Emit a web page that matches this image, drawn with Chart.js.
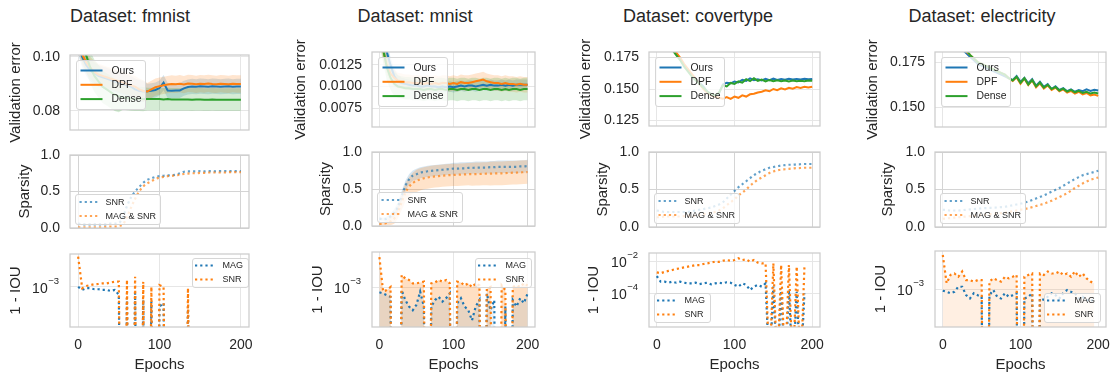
<!DOCTYPE html>
<html>
<head>
<meta charset="utf-8">
<script src="https://cdn.jsdelivr.net/npm/chart.js"></script>
<style>
  html, body { margin: 0; padding: 0; background: #fff; }
  #fig { position: relative; width: 1115px; height: 375px; overflow: hidden;
         font-family: 'Liberation Sans', Arial, sans-serif; color: #262626; }
  #fig canvas { position: absolute; }
  .ttl { position: absolute; top: 6px; font-size: 18px; line-height: 21px; white-space: nowrap; transform: translateX(-50%); }
</style>
</head>
<body>
<div id="fig"></div>
<script>
// ---- data ----
const datasetNames = ['fmnist', 'mnist', 'covertype', 'electricity'];
const methods = ['Ours', 'DPF', 'Dense'];
const sparsityLabels = ['SNR', 'MAG & SNR'];
const iouLabels = ['MAG', 'SNR'];
const Z = 1e-9; // "zero" overlap, plotted below the log axis

const epochs = [0,5,10,15,20,25,30,35,40,45,50,55,60,65,70,75,80,85,90,95,
  100,105,110,115,120,125,130,135,140,145,150,155,160,165,170,175,180,185,190,195,200];
const xTicks = [0, 100, 200];

// validation error
const fmOurs = [0.105,0.100,0.097,0.095,0.094,0.093,0.0925,0.092,0.0915,0.091,
  0.0905,0.090,0.0895,0.089,0.088,0.0875,0.0872,0.0873,0.0875,0.0878,
  0.0885,0.0905,0.0876,0.0875,0.0876,0.0876,0.0884,0.0889,0.0891,0.0890,
  0.0892,0.0891,0.0890,0.0892,0.0891,0.0890,0.0891,0.0892,0.0890,0.0891,0.0891];
const fmDpf = [0.106,0.101,0.098,0.096,0.0945,0.0935,0.093,0.0925,0.092,0.0915,
  0.091,0.0905,0.090,0.0895,0.089,0.088,0.0874,0.0872,0.0880,0.0888,
  0.0892,0.0895,0.0898,0.0900,0.0899,0.0901,0.0898,0.0902,0.0901,0.0899,
  0.0901,0.0900,0.0902,0.0900,0.0899,0.0901,0.0900,0.0899,0.0901,0.0900,0.0900];
const fmDense = [0.110,0.104,0.1005,0.096,0.093,0.091,0.089,0.088,0.087,0.086,
  0.0855,0.085,0.0848,0.0846,0.0845,0.0845,0.0844,0.0844,0.0844,0.0844,
  0.0844,0.0843,0.0844,0.0843,0.0843,0.0843,0.0843,0.0843,0.0842,0.0843,
  0.0843,0.0842,0.0842,0.0843,0.0842,0.0842,0.0842,0.0842,0.0842,0.0842,0.0842];
const fmOursStd = [0.004,0.004,0.004,0.004,0.004,0.004,0.004,0.004,0.004,0.004,
  0.004,0.004,0.004,0.004,0.004,0.004,0.004,0.0028,0.0028,0.0028,
  0.0028,0.0028,0.0028,0.0028,0.0028,0.0028,0.0028,0.0028,0.0028,0.0028,
  0.0028,0.0028,0.0028,0.0028,0.0028,0.0028,0.0028,0.0028,0.0028,0.0028,0.0028];
const fmDpfStd = [0.004,0.004,0.004,0.004,0.004,0.004,0.004,0.004,0.004,0.004,
  0.004,0.004,0.004,0.004,0.004,0.004,0.004,0.0032,0.0032,0.0032,
  0.0032,0.0032,0.0032,0.0032,0.0032,0.0032,0.0032,0.0032,0.0032,0.0032,
  0.0032,0.0032,0.0032,0.0032,0.0032,0.0032,0.0032,0.0032,0.0032,0.0032,0.0032];
const fmDenseStd = [0.006,0.006,0.006,0.006,0.006,0.006,0.006,0.006,0.006,0.006,
  0.006,0.0045,0.0045,0.0045,0.0045,0.0045,0.0045,0.0042,0.0042,0.0042,
  0.0042,0.0042,0.0042,0.0042,0.0042,0.0042,0.0042,0.0042,0.0042,0.0042,
  0.0042,0.0042,0.0042,0.0042,0.0042,0.0042,0.0042,0.0042,0.0042,0.0042,0.0042];

const mnOurs = [0.0180,0.0150,0.0140,0.0125,0.0112,0.0106,0.0104,0.0103,0.0102,0.0101,
  0.0101,0.0100,0.0100,0.0101,0.0100,0.0100,0.0099,0.0100,0.0099,0.0100,
  0.0099,0.0100,0.0101,0.0100,0.0101,0.0101,0.0100,0.0101,0.0102,0.0101,
  0.0102,0.0101,0.0101,0.0102,0.0101,0.0102,0.0101,0.0102,0.0102,0.0102,0.0102];
const mnDpf = [0.0170,0.0142,0.0125,0.0115,0.0110,0.0107,0.0106,0.0105,0.0105,0.0104,
  0.0104,0.0104,0.0103,0.0104,0.0103,0.0104,0.0103,0.0104,0.0104,0.0103,
  0.0104,0.0103,0.0105,0.0104,0.0104,0.0105,0.0106,0.0107,0.0108,0.0106,
  0.0105,0.0104,0.0104,0.0103,0.0104,0.0103,0.0103,0.0102,0.0103,0.0102,0.0102];
const mnDense = [0.0170,0.0143,0.0122,0.0110,0.0103,0.0100,0.0099,0.0098,0.0098,0.0097,
  0.0097,0.0097,0.0096,0.0097,0.0097,0.0096,0.0097,0.0097,0.0096,0.0097,
  0.0097,0.0096,0.0097,0.0097,0.0096,0.0097,0.0097,0.0096,0.0097,0.0097,
  0.0096,0.0097,0.0097,0.0096,0.0097,0.0096,0.0097,0.0097,0.0096,0.0097,0.0097];
const mnOursStd = [0.0015,0.0012,0.001,0.0009,0.0008,0.0007,0.0006,0.0006,0.0006,0.0006,
  0.0006,0.0006,0.0006,0.0006,0.0006,0.0006,0.0006,0.0006,0.0006,0.0006,
  0.0006,0.0006,0.0006,0.0006,0.0006,0.0006,0.0006,0.0006,0.0006,0.0006,
  0.0006,0.0006,0.0006,0.0006,0.0006,0.0006,0.0006,0.0006,0.0006,0.0006,0.0006];
const mnDpfStd = [0.0015,0.0012,0.0011,0.001,0.001,0.0009,0.0009,0.0009,0.0009,0.0009,
  0.0009,0.0009,0.0009,0.0009,0.0009,0.0009,0.0009,0.0009,0.0009,0.0009,
  0.0009,0.0009,0.0009,0.0009,0.0009,0.0009,0.0009,0.0009,0.0009,0.0009,
  0.0009,0.0009,0.0009,0.0009,0.0009,0.0009,0.0009,0.0009,0.0009,0.0009,0.0009];
const mnDenseStd = [0.0018,0.0016,0.0015,0.0014,0.0014,0.0013,0.0013,0.0013,0.0013,0.0013,
  0.0013,0.0013,0.0013,0.0013,0.0013,0.0013,0.0013,0.0013,0.0013,0.0013,
  0.0013,0.0013,0.0013,0.0013,0.0013,0.0013,0.0013,0.0013,0.0013,0.0013,
  0.0013,0.0013,0.0013,0.0013,0.0013,0.0013,0.0013,0.0013,0.0013,0.0013,0.0013];

const coOurs = [0.200,0.195,0.190,0.186,0.182,0.178,0.174,0.169,0.165,0.161,
  0.158,0.155,0.152,0.148,0.146,0.1445,0.1465,0.1535,0.1550,0.1545,
  0.1560,0.1552,0.1572,0.1565,0.1585,0.1570,0.1578,0.1568,0.1580,0.1570,
  0.1582,0.1572,0.1580,0.1574,0.1582,0.1576,0.1580,0.1575,0.1582,0.1578,0.1580];
const coDpf = [0.201,0.196,0.191,0.187,0.183,0.179,0.175,0.170,0.166,0.162,
  0.158,0.154,0.150,0.147,0.145,0.1438,0.1430,0.1422,0.1435,0.1422,
  0.1440,0.1430,0.1450,0.1440,0.1458,0.1462,0.1472,0.1478,0.1490,0.1482,
  0.1500,0.1490,0.1505,0.1497,0.1510,0.1502,0.1515,0.1508,0.1518,0.1512,0.1518];
const coDense = [0.199,0.194,0.189,0.185,0.181,0.177,0.173,0.168,0.164,0.160,
  0.157,0.154,0.151,0.148,0.146,0.1450,0.1470,0.1530,0.1520,0.1548,
  0.1540,0.1560,0.1550,0.1578,0.1562,0.1585,0.1565,0.1575,0.1560,0.1572,
  0.1562,0.1570,0.1562,0.1568,0.1560,0.1568,0.1562,0.1566,0.1562,0.1568,0.1565];

const elOurs = [0.195,0.192,0.189,0.186,0.184,0.182,0.180,0.178,0.176,0.174,
  0.173,0.172,0.171,0.170,0.169,0.168,0.167,0.1660,0.1650,0.1672,
  0.1640,0.1662,0.1632,0.1655,0.1618,0.1640,0.1612,0.1628,0.1600,0.1615,
  0.1595,0.1605,0.1588,0.1598,0.1585,0.1595,0.1588,0.1598,0.1590,0.1596,0.1592];
const elDpf = [0.196,0.193,0.190,0.187,0.185,0.183,0.181,0.179,0.177,0.175,
  0.174,0.173,0.172,0.171,0.170,0.169,0.168,0.1660,0.1645,0.1665,
  0.1630,0.1658,0.1622,0.1648,0.1610,0.1632,0.1603,0.1620,0.1595,0.1608,
  0.1588,0.1598,0.1580,0.1590,0.1575,0.1585,0.1570,0.1578,0.1565,0.1570,0.1562];
const elDense = [0.197,0.194,0.191,0.188,0.186,0.184,0.182,0.179,0.177,0.175,
  0.174,0.173,0.172,0.171,0.170,0.169,0.168,0.1660,0.1648,0.1668,
  0.1635,0.1660,0.1625,0.1650,0.1615,0.1636,0.1608,0.1624,0.1600,0.1612,
  0.1592,0.1602,0.1586,0.1595,0.1582,0.1590,0.1578,0.1585,0.1575,0.1580,0.1575];

const fmErrTicks = [0.08, 0.10];
const mnErrTicks = [0.0075, 0.0100, 0.0125];
const coErrTicks = [0.125, 0.150, 0.175];
const elErrTicks = [0.150, 0.175];

// sparsity
const sparsityTicks = [0, 0.5, 1.0];
const fmSnr = [0.06,0.05,0.05,0.05,0.05,0.05,0.05,0.05,0.06,0.06,
  0.07,0.15,0.30,0.42,0.50,0.56,0.62,0.66,0.68,0.70,
  0.71,0.715,0.72,0.725,0.73,0.75,0.77,0.775,0.775,0.775,
  0.78,0.775,0.78,0.78,0.775,0.78,0.78,0.78,0.78,0.78,0.78];
const fmMagSnr = [0.01,0.01,0.01,0.01,0.01,0.01,0.01,0.015,0.02,0.02,
  0.03,0.05,0.15,0.28,0.40,0.50,0.57,0.61,0.64,0.67,
  0.69,0.70,0.71,0.715,0.72,0.73,0.74,0.745,0.75,0.75,
  0.755,0.755,0.76,0.76,0.76,0.76,0.76,0.765,0.765,0.765,0.765];
const mnSnr = [0.10,0.09,0.10,0.13,0.18,0.26,0.40,0.54,0.63,0.68,
  0.70,0.72,0.73,0.74,0.745,0.75,0.755,0.76,0.765,0.77,
  0.775,0.775,0.78,0.78,0.785,0.785,0.79,0.79,0.79,0.79,
  0.795,0.795,0.80,0.80,0.80,0.80,0.80,0.80,0.805,0.805,0.81];
const mnMagSnr = [0.03,0.03,0.04,0.06,0.10,0.19,0.32,0.45,0.53,0.58,
  0.61,0.63,0.645,0.655,0.665,0.67,0.675,0.68,0.685,0.688,
  0.69,0.692,0.695,0.697,0.70,0.70,0.702,0.703,0.705,0.707,
  0.708,0.71,0.71,0.712,0.715,0.717,0.72,0.722,0.725,0.727,0.73];
const mnSnrStd = [0.02,0.02,0.03,0.04,0.05,0.06,0.07,0.07,0.07,0.07,
  0.075,0.075,0.075,0.075,0.075,0.075,0.075,0.075,0.075,0.075,
  0.08,0.08,0.08,0.08,0.08,0.08,0.08,0.08,0.08,0.08,
  0.085,0.085,0.085,0.085,0.085,0.085,0.085,0.085,0.085,0.085,0.085];
const mnMagSnrStd = [0.02,0.02,0.03,0.05,0.07,0.09,0.11,0.12,0.13,0.14,
  0.15,0.15,0.15,0.15,0.15,0.15,0.15,0.15,0.15,0.15,
  0.15,0.15,0.15,0.15,0.15,0.155,0.155,0.155,0.155,0.155,
  0.16,0.16,0.16,0.16,0.16,0.16,0.16,0.16,0.16,0.16,0.16];
const coSnr = [0.22,0.21,0.20,0.20,0.20,0.20,0.20,0.20,0.20,0.21,
  0.22,0.23,0.24,0.25,0.26,0.28,0.30,0.33,0.38,0.43,
  0.48,0.53,0.57,0.61,0.65,0.69,0.72,0.75,0.77,0.79,
  0.80,0.81,0.82,0.825,0.83,0.83,0.835,0.837,0.84,0.84,0.84];
const coMagSnr = [0.13,0.13,0.14,0.14,0.14,0.14,0.14,0.145,0.15,0.15,
  0.15,0.16,0.17,0.18,0.19,0.20,0.22,0.25,0.29,0.33,
  0.37,0.42,0.46,0.50,0.55,0.59,0.63,0.66,0.69,0.72,
  0.74,0.755,0.765,0.77,0.775,0.78,0.785,0.787,0.79,0.79,0.79];
const elSnr = [0.23,0.225,0.22,0.22,0.22,0.225,0.23,0.235,0.24,0.245,
  0.25,0.252,0.255,0.258,0.26,0.265,0.27,0.28,0.29,0.30,
  0.31,0.325,0.34,0.36,0.38,0.40,0.42,0.445,0.47,0.495,
  0.52,0.55,0.58,0.61,0.64,0.665,0.69,0.705,0.72,0.735,0.75];
const elMagSnr = [0.11,0.115,0.12,0.125,0.13,0.135,0.14,0.145,0.15,0.155,
  0.16,0.165,0.17,0.175,0.18,0.185,0.19,0.20,0.21,0.22,
  0.23,0.24,0.25,0.265,0.28,0.295,0.31,0.33,0.35,0.375,
  0.40,0.425,0.45,0.485,0.52,0.55,0.58,0.605,0.63,0.645,0.66];

// 1 - IOU (log axis)
const fmIouTicks = [1e-3];
const mnIouTicks = [1e-3];
const coIouTicks = [1e-2, 1e-4];
const elIouTicks = [1e-3];
const fmMag = [1.0e-3,9.1e-4,9.6e-4,9.6e-4,9.3e-4,9.3e-4,9.1e-4,9.1e-4,8.8e-4,9.1e-4,
  7.8e-4,Z,7.1e-4,Z,8.3e-4,Z,6.6e-4,Z,6.3e-4,Z,
  5.4e-4,6.0e-4,Z,Z,Z,Z,Z,5.4e-4,Z,Z,
  Z,Z,Z,Z,Z,Z,Z,Z,Z,Z,Z];
const fmSnrIou = [2.6e-3,9.6e-4,1.03e-3,1.06e-3,1.09e-3,1.1e-3,1.12e-3,1.12e-3,1.15e-3,1.18e-3,
  1.18e-3,Z,1.25e-3,Z,1.38e-3,Z,1.18e-3,Z,1.0e-3,Z,
  1.06e-3,1.0e-3,Z,Z,Z,Z,Z,9.6e-4,Z,Z,
  Z,Z,Z,Z,Z,Z,Z,Z,Z,Z,Z];
const mnMag = [8.5e-4,8.2e-4,7.8e-4,7.4e-4,Z,Z,9.1e-4,6.7e-4,5.5e-4,4.9e-4,
  5.8e-4,8.7e-4,5.5e-4,Z,5.5e-4,6.7e-4,7.4e-4,6.4e-4,7.1e-4,8.2e-4,
  Z,6.1e-4,7.1e-4,5.5e-4,4.9e-4,3.6e-4,5.5e-4,6.7e-4,Z,8.2e-4,
  4.9e-4,6.7e-4,Z,Z,5.5e-4,Z,6.7e-4,5.5e-4,7.1e-4,6.1e-4,8.2e-4];
const mnSnrIou = [2.5e-3,8.7e-4,9.1e-4,1.0e-3,Z,Z,1.45e-3,1.3e-3,1.24e-3,1.12e-3,
  1.12e-3,1.15e-3,1.18e-3,Z,1.12e-3,1.15e-3,1.24e-3,1.18e-3,1.24e-3,1.12e-3,
  Z,1.18e-3,1.15e-3,1.05e-3,1.12e-3,1.0e-3,1.12e-3,1.05e-3,Z,9.5e-4,
  1.0e-3,Z,Z,1.05e-3,9.1e-4,Z,1.0e-3,1.05e-3,1.0e-3,1.12e-3,1.05e-3];
const coMag = [1.15e-3,5.1e-4,5.1e-4,4.4e-4,5.1e-4,4.4e-4,5.1e-4,4.4e-4,4.0e-4,4.0e-4,
  4.4e-4,3.6e-4,4.0e-4,4.4e-4,3.5e-4,4.0e-4,4.4e-4,4.0e-4,4.7e-4,4.4e-4,
  3.2e-4,2.5e-4,4.0e-4,3.2e-4,1.55e-4,2.5e-4,3.2e-4,2.5e-4,4.0e-4,Z,
  2.5e-4,Z,2.0e-4,Z,1.55e-4,Z,1.2e-4,Z,9.5e-5,null,null];
const coSnrIou = [1.95e-3,1.7e-3,2.1e-3,2.4e-3,2.75e-3,3.2e-3,3.5e-3,4.0e-3,4.4e-3,4.9e-3,
  5.6e-3,5.6e-3,6.5e-3,7.1e-3,7.9e-3,9.1e-3,8.8e-3,1.04e-2,1.15e-2,1.04e-2,
  1.15e-2,1.47e-2,1.15e-2,1.27e-2,9.1e-3,1.15e-2,7.9e-3,7.1e-3,7.1e-3,Z,
  7.1e-3,Z,5.6e-3,Z,5.6e-3,Z,4.4e-3,Z,4.4e-3,null,null];
const elMag = [9.5e-4,9.2e-4,8.8e-4,9.2e-4,1.07e-3,1.07e-3,8.3e-4,7.5e-4,8.8e-4,8.3e-4,
  7.9e-4,Z,8.3e-4,9.7e-4,7.9e-4,7.5e-4,8.8e-4,7.9e-4,8.3e-4,8.8e-4,
  Z,7.5e-4,7.9e-4,8.8e-4,Z,7.5e-4,7.2e-4,7.9e-4,8.8e-4,8.3e-4,
  7.5e-4,8.8e-4,9.7e-4,9.2e-4,8.8e-4,7.5e-4,7.9e-4,7.2e-4,6.8e-4,7.5e-4,null];
const elSnrIou = [2.8e-3,1.19e-3,1.53e-3,1.6e-3,1.45e-3,1.7e-3,1.31e-3,1.31e-3,1.25e-3,1.31e-3,
  1.31e-3,Z,1.25e-3,1.38e-3,1.31e-3,1.25e-3,1.45e-3,1.38e-3,1.45e-3,1.53e-3,
  Z,1.45e-3,1.53e-3,1.6e-3,Z,1.6e-3,1.53e-3,1.7e-3,1.6e-3,1.6e-3,
  1.7e-3,1.53e-3,1.6e-3,1.45e-3,1.7e-3,1.45e-3,1.6e-3,1.38e-3,1.25e-3,1.19e-3,null];

// ---- layout (page pixels of each plot box) ----
const panels = [
  { left: 70,  right: 249,  rows: [[55,130],[155,228],[254,327]], yTitle: [16,25,16],        titleX: 130 },
  { left: 372, right: 535,  rows: [[52,127],[152,226],[252,327]], yTitle: [301.5,326,318],   titleX: 415 },
  { left: 649, right: 820,  rows: [[52,126],[152,227],[253,327]], yTitle: [586.5,603,594],   titleX: 698 },
  { left: 935, right: 1106, rows: [[52,127],[152,227],[251,327]], yTitle: [873,888.5,881],   titleX: 982 }
];

const FONT = "'Liberation Sans', Arial, sans-serif";
const TXT = '#262626';
const BLUE = '#1f77b4', ORANGE = '#ff7f0e', GREEN = '#2ca02c';
const DOT = [2.2, 3.0];

Chart.defaults.font.family = FONT;
Chart.defaults.color = TXT;

const fig = document.getElementById('fig');

function rgba(hex, a) {
  const n = parseInt(hex.slice(1), 16);
  return 'rgba(' + (n >> 16) + ',' + ((n >> 8) & 255) + ',' + (n & 255) + ',' + a + ')';
}
function pts(arr) { return epochs.map((e, i) => ({ x: e, y: arr[i] })); }

function solid(label, arr, color, order) {
  return { label, data: pts(arr), borderColor: color, borderWidth: 2, pointRadius: 0, fill: false, order, tension: 0 };
}
function dotted(label, arr, color, order, smooth) {
  return { label, data: pts(arr), borderColor: color, borderWidth: 2.2, borderDash: DOT, borderCapStyle: 'butt',
    pointRadius: 0, fill: false, order, tension: smooth ? 0.4 : 0, cubicInterpolationMode: smooth ? 'monotone' : 'default' };
}
// lower edge + upper edge filled to the lower one
function band(mean, std, color, alpha) {
  return [
    { data: pts(mean.map((m, i) => m - std[i])), borderWidth: 0, borderColor: 'rgba(0,0,0,0)', pointRadius: 0, fill: false, order: 20 },
    { data: pts(mean.map((m, i) => m + std[i])), borderWidth: 0, borderColor: 'rgba(0,0,0,0)', pointRadius: 0, fill: '-1',
      backgroundColor: rgba(color, alpha), order: 20 }
  ];
}
function under(arr, color, alpha) {
  return { data: pts(arr), borderWidth: 0, borderColor: 'rgba(0,0,0,0)', pointRadius: 0, fill: 'start',
    backgroundColor: rgba(color, alpha), order: 21 };
}

function drawLegend(chart, lg) {
  if (!lg) return;
  const a = chart.chartArea, ctx = chart.ctx;
  const x = Math.round(lg.side === 'left' ? a.left + lg.dx : a.right - lg.dx - lg.w) + 0.5;
  const y = Math.round(lg.vert === 'top' ? a.top + lg.dy : a.bottom - lg.dy - lg.h) + 0.5;
  ctx.save();
  ctx.beginPath();
  if (ctx.roundRect) ctx.roundRect(x, y, lg.w, lg.h, 2.5); else ctx.rect(x, y, lg.w, lg.h);
  ctx.fillStyle = 'rgba(255,255,255,0.8)';
  ctx.fill();
  ctx.strokeStyle = '#d6d6d6';
  ctx.lineWidth = 1;
  ctx.stroke();
  lg.items.forEach((it, i) => {
    const yy = y + lg.y0 + i * lg.step;
    ctx.beginPath();
    ctx.setLineDash(it.dash || []);
    ctx.lineCap = 'butt';
    ctx.strokeStyle = it.color;
    ctx.lineWidth = it.dash ? 2.2 : 2;
    ctx.moveTo(x + lg.h0, yy);
    ctx.lineTo(x + lg.h1, yy);
    ctx.stroke();
    ctx.setLineDash([]);
    ctx.fillStyle = TXT;
    ctx.font = lg.font + 'px ' + FONT;
    ctx.textAlign = 'left';
    ctx.textBaseline = 'middle';
    ctx.fillText(it.label, x + lg.tx, yy + 0.5);
  });
  ctx.restore();
}

function drawSupTicks(chart) {
  const ys = chart.scales.y, ctx = chart.ctx, a = chart.chartArea;
  ctx.save();
  ctx.fillStyle = TXT;
  ctx.textBaseline = 'middle';
  ys.ticks.forEach(t => {
    const y = ys.getPixelForValue(t.value);
    const ex = '\u2212' + Math.abs(Math.round(Math.log10(t.value)));
    ctx.font = '9.5px ' + FONT;
    const sw = ctx.measureText(ex).width;
    const right = a.left - 11;
    ctx.textAlign = 'left';
    ctx.fillText(ex, right - sw, y - 6);
    ctx.font = '14px ' + FONT;
    ctx.textAlign = 'right';
    ctx.fillText('10', right - sw - 0.5, y + 2.5);
  });
  ctx.restore();
}

function panel(col, row, y, datasets, legend) {
  const P = panels[col];
  const pt = P.rows[row][0], pb = P.rows[row][1];
  const yW = Math.round(P.left - (P.yTitle[row] - 9));
  const last = row === 2;
  const padTop = row === 0 ? 42 : 24;
  const padRight = 20;
  const padBottom = last ? 0 : 20;
  const xH = last ? 375 - pb : 0;
  const W = yW + (P.right - P.left) + padRight;
  const H = padTop + (pb - pt) + padBottom + xH;
  const cv = document.createElement('canvas');
  cv.width = W; cv.height = H;
  cv.style.left = (P.left - yW) + 'px';
  cv.style.top = (pt - padTop) + 'px';
  fig.appendChild(cv);
  const gridColor = row === 1 ? '#d4d4d4' : '#e6e6e6';

  new Chart(cv, {
    type: 'line',
    data: { datasets },
    options: {
      responsive: false, animation: false, devicePixelRatio: 1,
      layout: { padding: { left: 0, top: padTop, right: padRight, bottom: padBottom } },
      plugins: { legend: { display: false }, tooltip: { enabled: false } },
      elements: { point: { radius: 0 } },
      scales: {
        x: {
          type: 'linear', min: -10, max: 210, bounds: 'data',
          grid: { color: gridColor, drawTicks: false, lineWidth: 1 },
          border: { display: false },
          afterBuildTicks: s => { s.ticks = xTicks.map(v => ({ value: v })); },
          afterFit: s => { s.height = xH; },
          ticks: { display: last, padding: 10, autoSkip: false, maxRotation: 0, font: { size: 14 }, color: TXT },
          title: { display: last, text: 'Epochs', font: { size: 15 }, color: TXT, padding: { top: 0, bottom: 1 } }
        },
        y: {
          type: y.log ? 'logarithmic' : 'linear', min: y.min, max: y.max, bounds: 'data',
          grid: { color: gridColor, drawTicks: false, lineWidth: 1 },
          border: { display: false },
          afterBuildTicks: s => { s.ticks = y.ticks.map(v => ({ value: v })); },
          afterFit: s => { s.width = yW; },
          ticks: { padding: 10, autoSkip: false, font: { size: 14 }, color: TXT,
                   callback: v => y.log ? '' : Number(v).toFixed(y.digits) },
          title: { display: true, text: y.title, font: { size: 15 }, color: TXT, padding: 0 }
        }
      }
    },
    plugins: [{
      id: 'frame',
      afterDatasetsDraw(chart) { drawLegend(chart, legend); },
      afterDraw(chart) {
        const a = chart.chartArea, ctx = chart.ctx;
        ctx.save();
        ctx.strokeStyle = '#cccccc';
        ctx.lineWidth = 1.25;
        ctx.strokeRect(a.left, a.top, a.right - a.left, a.bottom - a.top);
        ctx.restore();
        if (y.log) drawSupTicks(chart);
      }
    }]
  });
}

// titles
datasetNames.forEach((n, i) => {
  const d = document.createElement('div');
  d.className = 'ttl';
  d.style.left = panels[i].titleX + 'px';
  d.textContent = 'Dataset: ' + n;
  fig.appendChild(d);
});

// legends
function errLegend() {
  return { side: 'left', vert: 'top', dx: 5.5, dy: 5, w: 69, h: 49, y0: 10, step: 14.3, h0: 4, h1: 26, tx: 35, font: 10.4,
    items: [{ label: methods[0], color: BLUE }, { label: methods[1], color: ORANGE }, { label: methods[2], color: GREEN }] };
}
function spLegend() {
  return { side: 'left', vert: 'bottom', dx: 5, dy: 4.5, w: 85, h: 30, y0: 7.5, step: 14, h0: 4, h1: 22, tx: 30, font: 9,
    items: [{ label: sparsityLabels[0], color: rgba(BLUE, 0.7), dash: DOT }, { label: sparsityLabels[1], color: rgba(ORANGE, 0.7), dash: DOT }] };
}
function iouLegend(side, vert, dx, dy) {
  return { side, vert, dx, dy, w: 56, h: 29, y0: 7, step: 14, h0: 2.5, h1: 21, tx: 30, font: 9,
    items: [{ label: iouLabels[0], color: BLUE, dash: DOT }, { label: iouLabels[1], color: ORANGE, dash: DOT }] };
}

// earlier entries in the array are drawn on top, so later-plotted series go first
function errSets(ours, dpf, dense, stds) {
  let sets = [];
  if (stds) sets = sets.concat(band(dense, stds[2], GREEN, 0.2), band(dpf, stds[1], ORANGE, 0.2), band(ours, stds[0], BLUE, 0.2));
  return sets.concat([solid(methods[0], ours, BLUE, 3), solid(methods[1], dpf, ORANGE, 2), solid(methods[2], dense, GREEN, 1)]);
}
function spSets(snr, magSnr, stds) {
  let sets = [];
  if (stds) sets = sets.concat(band(magSnr, stds[1], ORANGE, 0.22), band(snr, stds[0], BLUE, 0.18));
  return sets.concat([dotted(sparsityLabels[0], snr, rgba(BLUE, 0.7), 2, true), dotted(sparsityLabels[1], magSnr, rgba(ORANGE, 0.7), 1, true)]);
}
function iouSets(mag, snr, fills) {
  let sets = [];
  if (fills) {
    if (fills[0]) sets.push(under(mag, BLUE, fills[0]));
    if (fills[1]) sets.push(under(snr, ORANGE, fills[1]));
  }
  return sets.concat([dotted(iouLabels[0], mag, BLUE, 2, false), dotted(iouLabels[1], snr, ORANGE, 1, false)]);
}

const VE = 'Validation error', SP = 'Sparsity', IOU = '1 - IOU';
const spAxis = { min: 0, max: 1, ticks: sparsityTicks, digits: 1, title: SP };

// fmnist
panel(0, 0, { min: 0.07296, max: 0.10074, ticks: fmErrTicks, digits: 2, title: VE },
  errSets(fmOurs, fmDpf, fmDense, [fmOursStd, fmDpfStd, fmDenseStd]), errLegend());
panel(0, 1, spAxis, spSets(fmSnr, fmMagSnr, null), spLegend());
panel(0, 2, { log: true, min: Math.pow(10, -3.55), max: Math.pow(10, -2.548), ticks: fmIouTicks, title: IOU },
  iouSets(fmMag, fmSnrIou, null), iouLegend('right', 'top', 1.5, 4));

// mnist
panel(1, 0, { min: 0.0053, max: 0.0140, ticks: mnErrTicks, digits: 4, title: VE },
  errSets(mnOurs, mnDpf, mnDense, [mnOursStd, mnDpfStd, mnDenseStd]), errLegend());
panel(1, 1, spAxis, spSets(mnSnr, mnMagSnr, [mnSnrStd, mnMagSnrStd]), spLegend());
panel(1, 2, { log: true, min: Math.pow(10, -3.533), max: Math.pow(10, -2.533), ticks: mnIouTicks, title: IOU },
  iouSets(mnMag, mnSnrIou, [0.1, 0.25]), iouLegend('right', 'top', 4, 6));

// covertype
panel(2, 0, { min: 0.1206, max: 0.1794, ticks: coErrTicks, digits: 3, title: VE },
  errSets(coOurs, coDpf, coDense, null), errLegend());
panel(2, 1, spAxis, spSets(coSnr, coMagSnr, null), spLegend());
panel(2, 2, { log: true, min: Math.pow(10, -6.125), max: Math.pow(10, -1.5), ticks: coIouTicks, title: IOU },
  iouSets(coMag, coSnrIou, null), iouLegend('left', 'bottom', 5, 5));

// electricity
panel(3, 0, { min: 0.1389, max: 0.1806, ticks: elErrTicks, digits: 3, title: VE },
  errSets(elOurs, elDpf, elDense, null), errLegend());
panel(3, 1, spAxis, spSets(elSnr, elMagSnr, null), spLegend());
panel(3, 2, { log: true, min: Math.pow(10, -3.5), max: Math.pow(10, -2.5), ticks: elIouTicks, title: IOU },
  iouSets(elMag, elSnrIou, [0, 0.12]), iouLegend('right', 'bottom', 6, 5));
</script>
</body>
</html>
